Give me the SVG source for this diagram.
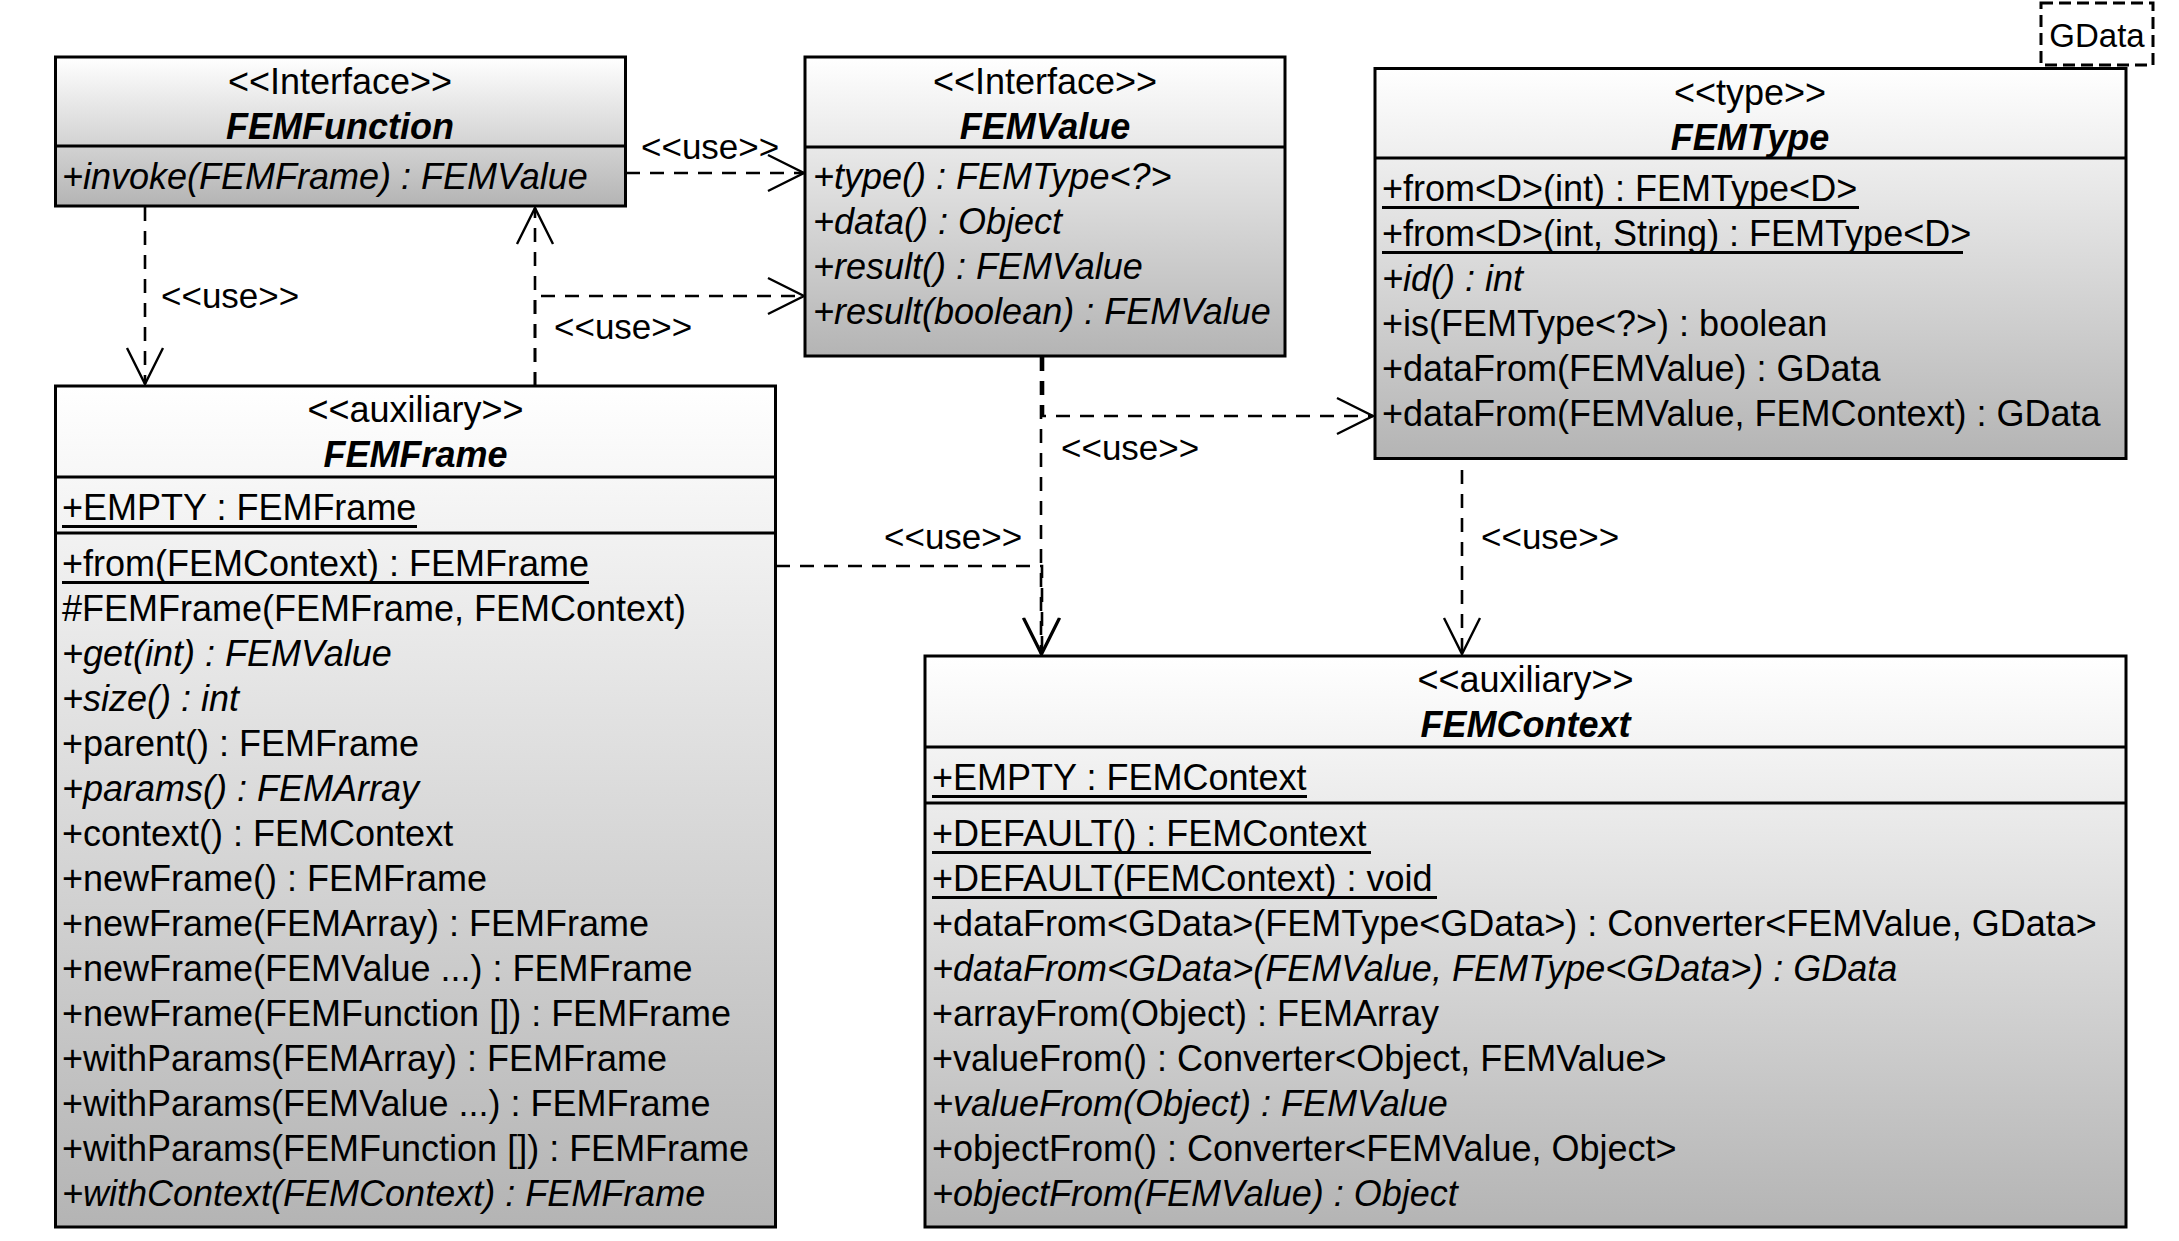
<svg xmlns="http://www.w3.org/2000/svg" width="2179" height="1241" viewBox="0 0 2179 1241">
<style>
.t{font-family:"Liberation Sans",Arial,sans-serif;font-size:36px;fill:#000}
.c{text-anchor:middle}
.b{font-weight:bold;font-style:italic}
.i{font-style:italic}
.ul{stroke:#000;stroke-width:3}
.box{fill:url(#g);stroke:#000;stroke-width:3}
.dv{stroke:#000;stroke-width:3}
.dash{fill:none;stroke:#000;stroke-width:2.6;stroke-dasharray:14 10;marker-end:url(#open)}
.lbl{font-size:35px}
</style>
<defs>
<linearGradient id="g" x1="0" y1="0" x2="0" y2="1">
<stop offset="0" stop-color="#ffffff"/>
<stop offset="1" stop-color="#b4b4b4"/>
</linearGradient>
<marker id="open" viewBox="0 0 40 40" markerUnits="userSpaceOnUse" markerWidth="40" markerHeight="40" refX="37" refY="20" orient="auto" overflow="visible">
<path d="M1,2 L37,20 L1,38" fill="none" stroke="#000" stroke-width="2.4" stroke-dasharray="none"/>
</marker>
</defs>
<rect width="2179" height="1241" fill="#fff"/>

<g id="connectors">
<path class="dash" d="M626,173 H804"/>
<path class="dash" d="M145,207 V384"/>
<path class="dash" d="M535,386 V208"/>
<path class="dash" d="M535,386 V296 H804"/>
<path class="dash" d="M1043,357 V416 H1373"/>
<path class="dash" d="M1041,357 V654"/>
<path class="dash" d="M776,566 H1042 V654"/>
<path class="dash" d="M1462,446 V654"/>
<text class="t lbl" x="641" y="159">&lt;&lt;use&gt;&gt;</text>
<text class="t lbl" x="161" y="308">&lt;&lt;use&gt;&gt;</text>
<text class="t lbl" x="554" y="339">&lt;&lt;use&gt;&gt;</text>
<text class="t lbl" x="1061" y="460">&lt;&lt;use&gt;&gt;</text>
<text class="t lbl" x="884" y="549">&lt;&lt;use&gt;&gt;</text>
<text class="t lbl" x="1481" y="549">&lt;&lt;use&gt;&gt;</text>
</g>

<g id="FEMFunction">
<rect class="box" x="55.5" y="57" width="570" height="149"/>
<line class="dv" x1="55.5" y1="146" x2="625.5" y2="146"/>
<text class="t c" x="340" y="94">&lt;&lt;Interface&gt;&gt;</text>
<text class="t c b" x="340" y="139">FEMFunction</text>
<text class="t i" x="62" y="189">+invoke(FEMFrame) : FEMValue</text>
</g>

<g id="FEMValue">
<rect class="box" x="805" y="57" width="480" height="299"/>
<line class="dv" x1="805" y1="147" x2="1285" y2="147"/>
<text class="t c" x="1045" y="94">&lt;&lt;Interface&gt;&gt;</text>
<text class="t c b" x="1045" y="139">FEMValue</text>
<text class="t i" x="813" y="189">+type() : FEMType&lt;?&gt;</text>
<text class="t i" x="813" y="234">+data() : Object</text>
<text class="t i" x="813" y="279">+result() : FEMValue</text>
<text class="t i" x="813" y="324">+result(boolean) : FEMValue</text>
</g>

<g id="FEMType">
<rect class="box" x="1375" y="68.5" width="751" height="390"/>
<line class="dv" x1="1375" y1="158" x2="2126" y2="158"/>
<text class="t c" x="1750" y="105">&lt;&lt;type&gt;&gt;</text>
<text class="t c b" x="1750" y="150">FEMType</text>
<text class="t" x="1382" y="201">+from&lt;D&gt;(int) : FEMType&lt;D&gt;</text>
<line class="ul" x1="1382" y1="207.5" x2="1859" y2="207.5"/>
<text class="t" x="1382" y="246">+from&lt;D&gt;(int, String) : FEMType&lt;D&gt;</text>
<line class="ul" x1="1382" y1="252.5" x2="1963" y2="252.5"/>
<text class="t i" x="1382" y="291">+id() : int</text>
<text class="t" x="1382" y="336">+is(FEMType&lt;?&gt;) : boolean</text>
<text class="t" x="1382" y="381">+dataFrom(FEMValue) : GData</text>
<text class="t" x="1382" y="426">+dataFrom(FEMValue, FEMContext) : GData</text>
<rect x="2041" y="3" width="112" height="62" fill="#fff" stroke="#000" stroke-width="3" stroke-dasharray="12 6"/>
<text class="t c" style="font-size:33px" x="2097" y="47">GData</text>
</g>

<g id="FEMFrame">
<rect class="box" x="55.5" y="386" width="720" height="841"/>
<line class="dv" x1="55.5" y1="477" x2="775.5" y2="477"/>
<line class="dv" x1="55.5" y1="533" x2="775.5" y2="533"/>
<text class="t c" x="415.5" y="422">&lt;&lt;auxiliary&gt;&gt;</text>
<text class="t c b" x="415.5" y="467">FEMFrame</text>
<text class="t" x="62" y="520">+EMPTY : FEMFrame</text>
<line class="ul" x1="62" y1="526.5" x2="417" y2="526.5"/>
<text class="t" x="62" y="576">+from(FEMContext) : FEMFrame</text>
<line class="ul" x1="62" y1="582.5" x2="589" y2="582.5"/>
<text class="t" x="62" y="621">#FEMFrame(FEMFrame, FEMContext)</text>
<text class="t i" x="62" y="666">+get(int) : FEMValue</text>
<text class="t i" x="62" y="711">+size() : int</text>
<text class="t" x="62" y="756">+parent() : FEMFrame</text>
<text class="t i" x="62" y="801">+params() : FEMArray</text>
<text class="t" x="62" y="846">+context() : FEMContext</text>
<text class="t" x="62" y="891">+newFrame() : FEMFrame</text>
<text class="t" x="62" y="936">+newFrame(FEMArray) : FEMFrame</text>
<text class="t" x="62" y="981">+newFrame(FEMValue ...) : FEMFrame</text>
<text class="t" x="62" y="1026">+newFrame(FEMFunction []) : FEMFrame</text>
<text class="t" x="62" y="1071">+withParams(FEMArray) : FEMFrame</text>
<text class="t" x="62" y="1116">+withParams(FEMValue ...) : FEMFrame</text>
<text class="t" x="62" y="1161">+withParams(FEMFunction []) : FEMFrame</text>
<text class="t i" x="62" y="1206">+withContext(FEMContext) : FEMFrame</text>
</g>

<g id="FEMContext">
<rect class="box" x="925" y="656" width="1201" height="571"/>
<line class="dv" x1="925" y1="747" x2="2126" y2="747"/>
<line class="dv" x1="925" y1="803" x2="2126" y2="803"/>
<text class="t c" x="1525.5" y="692">&lt;&lt;auxiliary&gt;&gt;</text>
<text class="t c b" x="1525.5" y="737">FEMContext</text>
<text class="t" x="932" y="790">+EMPTY : FEMContext</text>
<line class="ul" x1="932" y1="796.5" x2="1307" y2="796.5"/>
<text class="t" x="932" y="846">+DEFAULT() : FEMContext</text>
<line class="ul" x1="932" y1="852.5" x2="1371" y2="852.5"/>
<text class="t" x="932" y="891">+DEFAULT(FEMContext) : void</text>
<line class="ul" x1="932" y1="897.5" x2="1437" y2="897.5"/>
<text class="t" x="932" y="936">+dataFrom&lt;GData&gt;(FEMType&lt;GData&gt;) : Converter&lt;FEMValue, GData&gt;</text>
<text class="t i" x="932" y="981">+dataFrom&lt;GData&gt;(FEMValue, FEMType&lt;GData&gt;) : GData</text>
<text class="t" x="932" y="1026">+arrayFrom(Object) : FEMArray</text>
<text class="t" x="932" y="1071">+valueFrom() : Converter&lt;Object, FEMValue&gt;</text>
<text class="t i" x="932" y="1116">+valueFrom(Object) : FEMValue</text>
<text class="t" x="932" y="1161">+objectFrom() : Converter&lt;FEMValue, Object&gt;</text>
<text class="t i" x="932" y="1206">+objectFrom(FEMValue) : Object</text>
</g>
</svg>
